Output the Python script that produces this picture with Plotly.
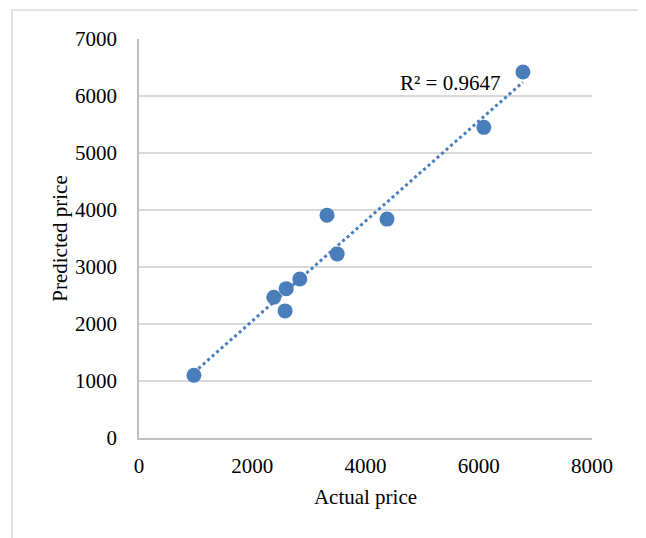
import numpy as np
import plotly.graph_objects as go

actual = [970, 2380, 2600, 2580, 2840, 3320, 3500, 4380, 6090, 6780]
predicted = [1100, 2470, 2620, 2230, 2790, 3910, 3230, 3840, 5450, 6420]
r2_label = "R² = 0.9647"
x_ticks = [0, 2000, 4000, 6000, 8000]
y_ticks = [0, 1000, 2000, 3000, 4000, 5000, 6000, 7000]

blue = "#4a7ebb"
font = "Liberation Serif"
fsize = 21

slope, intercept = np.polyfit(actual, predicted, 1)
tx = [min(actual), max(actual)]
ty = [slope * v + intercept for v in tx]

fig = go.Figure()
fig.add_trace(go.Scatter(x=tx, y=ty, mode="lines",
                         line=dict(color=blue, width=3, dash="dot"),
                         hoverinfo="skip", showlegend=False))
fig.add_trace(go.Scatter(x=actual, y=predicted, mode="markers",
                         marker=dict(color=blue, size=15),
                         showlegend=False))

fig.add_annotation(x=5490, y=6230, text=r2_label, showarrow=False,
                   font=dict(family=font, size=fsize, color="#000"))

fig.add_shape(type="rect", xref="paper", yref="paper",
              x0=-0.2804, x1=1.1115, y0=-0.35, y1=1.0727,
              line=dict(color="#d9d9d9", width=1.5), layer="below")

fig.update_layout(
    width=638, height=530,
    margin=dict(l=131, r=54, t=31, b=100),
    paper_bgcolor="white", plot_bgcolor="white",
    font=dict(family=font, size=fsize, color="#000"),
    xaxis=dict(range=[0, 8000], tickvals=x_ticks, showgrid=False,
               zeroline=False, showline=True, linecolor="#bfbfbf", linewidth=1.5,
               ticks="", ticklabelstandoff=8,
               tickfont=dict(family=font, size=fsize, color="#000"),
               title=dict(text="Actual price", standoff=12,
                          font=dict(family=font, size=fsize, color="#000"))),
    yaxis=dict(range=[0, 7000], tickvals=y_ticks, showgrid=True,
               gridcolor="#d9d9d9", gridwidth=1.5,
               zeroline=False, showline=True, linecolor="#bfbfbf", linewidth=1.5,
               ticks="", ticklabelstandoff=16,
               tickfont=dict(family=font, size=fsize, color="#000"),
               title=dict(text="Predicted price", standoff=2,
                          font=dict(family=font, size=fsize, color="#000"))),
)

fig.write_html("out.html")
